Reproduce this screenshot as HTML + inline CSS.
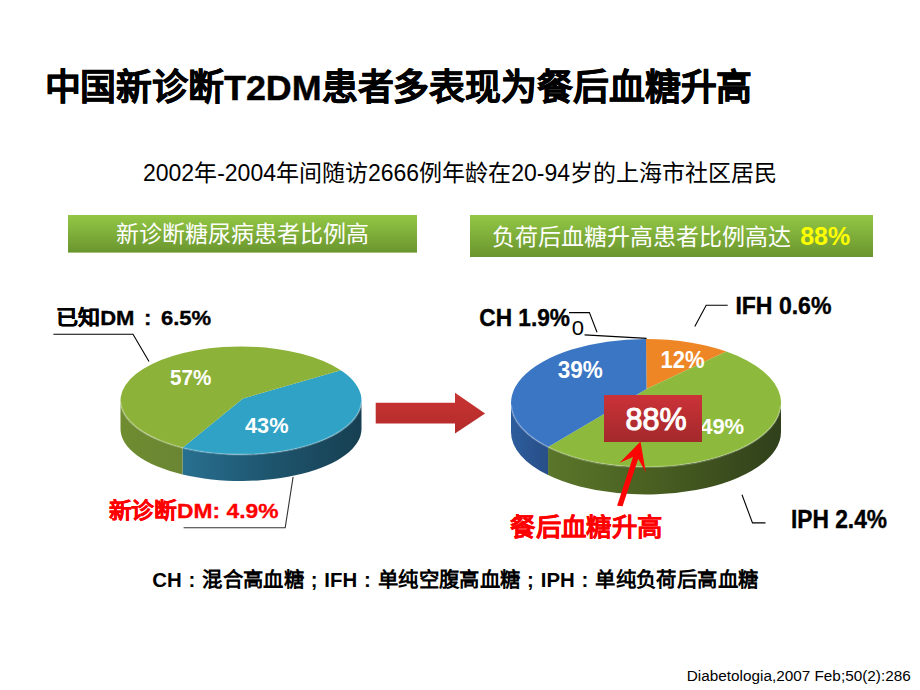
<!DOCTYPE html>
<html lang="zh-CN"><head><meta charset="utf-8"><title>slide</title>
<style>
html,body{margin:0;padding:0;background:#fff;}
body{width:920px;height:690px;position:relative;overflow:hidden;font-family:"Liberation Sans",sans-serif;}
.t{position:absolute;white-space:nowrap;line-height:1.15;transform-origin:0 0;}
.c{font-style:normal;display:inline-block;width:1em;text-align:center;}
.bk{-webkit-text-stroke:0.35px;}
#foot,#foot .c,#p57,#p43,#p39,#p12,#p49{-webkit-text-stroke:0;}
#red .c{-webkit-text-stroke:0.1px;}
#title .c{-webkit-text-stroke:0.6px;}
#title{-webkit-text-stroke:0.4px;}
#p88{-webkit-text-stroke:1px;}
.box{position:absolute;left:604px;top:395px;width:98px;height:46.5px;background:linear-gradient(#cb3238,#a3292b);}
</style></head><body>
<svg width="920" height="690" viewBox="0 0 920 690" style="position:absolute;left:0;top:0">
<defs>
<linearGradient id="lb" x1="0" x2="1" y1="0" y2="0"><stop offset="0" stop-color="#287090"/><stop offset="0.45" stop-color="#1e5770"/><stop offset="1" stop-color="#173f52"/></linearGradient>
<linearGradient id="lg" x1="0" x2="1" y1="0" y2="0"><stop offset="0" stop-color="#6f8c30"/><stop offset="1" stop-color="#6a8634"/></linearGradient>
<linearGradient id="rg" x1="0" x2="1" y1="0" y2="0"><stop offset="0" stop-color="#5a762a"/><stop offset="0.45" stop-color="#495f21"/><stop offset="1" stop-color="#30401b"/></linearGradient>
<linearGradient id="rb" x1="0" x2="1" y1="0" y2="0"><stop offset="0" stop-color="#2d5c9c"/><stop offset="1" stop-color="#274f88"/></linearGradient>
<linearGradient id="ro" x1="0" x2="1" y1="0" y2="0"><stop offset="0" stop-color="#c06a1e"/><stop offset="1" stop-color="#c06a1e"/></linearGradient>
<linearGradient id="bar" x1="0" x2="0" y1="0" y2="1"><stop offset="0" stop-color="#93c745"/><stop offset="1" stop-color="#6a952e"/></linearGradient>
<linearGradient id="arr" x1="0" x2="0" y1="0" y2="1"><stop offset="0" stop-color="#c93432"/><stop offset="1" stop-color="#b22b2a"/></linearGradient>
</defs>
<rect x="68" y="215" width="349" height="37.6" fill="url(#bar)"/>
<rect x="470" y="215" width="403" height="42" fill="url(#bar)"/>
<path d="M361.50 400.50 A120.50 54.00 0 0 1 182.58 447.73 L182.58 474.48 A120.50 52.00 0 0 0 361.50 429.00 Z" fill="url(#lb)"/>
<path d="M182.58 447.73 A120.50 54.00 0 0 1 120.50 400.50 L120.50 429.00 A120.50 52.00 0 0 0 182.58 474.48 Z" fill="url(#lg)"/>
<path d="M243.00 398.50 L340.90 370.30 A120.50 54.00 0 0 1 182.58 447.73 Z" fill="#2fa2c6"/>
<path d="M243.00 398.50 L182.58 447.73 A120.50 54.00 0 1 1 340.90 370.30 Z" fill="#8db23a"/>
<path d="M361.43 402.38 A120.50 54.00 0 0 1 120.57 402.38" fill="none" stroke="#fff" stroke-opacity="0.22" stroke-width="2"/>
<path d="M781.00 403.00 A135.00 64.00 0 0 1 548.07 447.05 L548.07 475.02 A135.00 62.50 0 0 0 781.00 432.00 Z" fill="url(#rg)"/>
<path d="M548.07 447.05 A135.00 64.00 0 0 1 511.00 403.00 L511.00 432.00 A135.00 62.50 0 0 0 548.07 475.02 Z" fill="url(#rb)"/>
<path d="M646.50 389.00 L646.00 339.00 A135.00 64.00 0 0 1 726.30 351.55 Z" fill="#ee8626"/>
<path d="M646.50 389.00 L726.30 351.55 A135.00 64.00 0 1 1 548.07 447.05 Z" fill="#8dba3c"/>
<path d="M646.50 389.00 L548.07 447.05 A135.00 64.00 0 0 1 646.00 339.00 Z" fill="#3b76c4"/>
<path d="M780.92 405.23 A135.00 64.00 0 0 1 511.08 405.23" fill="none" stroke="#fff" stroke-opacity="0.22" stroke-width="2"/>
<path d="M375.7 402.7 H455 V392.8 L485.1 413.4 L455 433.6 V423.6 H375.7 Z" fill="url(#arr)"/>
<g stroke="#000" stroke-width="1.1" fill="none">
<polyline points="53.4,334.2 133,334.2 149,361.5"/>
<polyline points="183.6,527.7 285.2,527.7 293.1,476.8" stroke="#333"/>
<polyline points="569,312.6 589.4,312.6 597,332.2"/>
<polyline points="584.6,334.9 646.6,338.4"/>
<polyline points="727.7,305.3 706.2,305.3 694.8,326.6"/>
<polyline points="742,494.8 752.5,522.9 765.5,522.9"/>
</g>
<path d="M640.5 441.4 L619.7 462.8 L633 457 L617.1 505.7 L622.6 506.2 L638.2 458.7 L645.8 472.6 Z" fill="#fb0505"/>
</svg>
<div class="t bk" id="title" style="left:44.5px;top:68px;font-size:35.9px;font-weight:bold;color:#000;transform:translate(0.00px,0.00px) scale(1.000,1.000)"><i class="c">中</i><i class="c">国</i><i class="c">新</i><i class="c">诊</i><i class="c">断</i>T2DM<i class="c">患</i><i class="c">者</i><i class="c">多</i><i class="c">表</i><i class="c">现</i><i class="c">为</i><i class="c">餐</i><i class="c">后</i><i class="c">血</i><i class="c">糖</i><i class="c">升</i><i class="c">高</i></div>
<div class="t" id="sub" style="left:143px;top:160px;font-size:23px;font-weight:normal;color:#000;transform:translate(0.00px,-0.10px) scale(1.000,1.000)">2002<i class="c">年</i>-2004<i class="c">年</i><i class="c">间</i><i class="c">随</i><i class="c">访</i>2666<i class="c">例</i><i class="c">年</i><i class="c">龄</i><i class="c">在</i>20-94<i class="c">岁</i><i class="c">的</i><i class="c">上</i><i class="c">海</i><i class="c">市</i><i class="c">社</i><i class="c">区</i><i class="c">居</i><i class="c">民</i></div>
<div class="t" id="barL" style="left:116px;top:220.5px;font-size:23px;font-weight:normal;color:#fff;transform:translate(0.00px,0.25px) scale(1.000,1.000)"><i class="c">新</i><i class="c">诊</i><i class="c">断</i><i class="c">糖</i><i class="c">尿</i><i class="c">病</i><i class="c">患</i><i class="c">者</i><i class="c">比</i><i class="c">例</i><i class="c">高</i></div>
<div class="t" id="barR" style="left:491.5px;top:222.7px;font-size:23px;font-weight:normal;color:#fff;transform:translate(0.25px,-1.30px) scale(1.000,1.000)"><i class="c">负</i><i class="c">荷</i><i class="c">后</i><i class="c">血</i><i class="c">糖</i><i class="c">升</i><i class="c">高</i><i class="c">患</i><i class="c">者</i><i class="c">比</i><i class="c">例</i><i class="c">高</i><i class="c">达</i> <b style="color:#ffff00;font-size:25px;margin-left:3px">88%</b></div>
<div class="t bk" id="known" style="left:55.5px;top:305px;font-size:22px;font-weight:bold;color:#000;transform:translate(-0.00px,1.16px) scale(1.003,0.920)"><i class="c">已</i><i class="c">知</i>DM<i class="c" style="width:1.2em">:</i>6.5%</div>
<div class="t bk" id="newdm" style="left:107.7px;top:498px;font-size:22.9px;font-weight:bold;color:#f00;transform:translate(0.70px,0.20px) scale(0.996,0.920)"><i class="c">新</i><i class="c">诊</i><i class="c">断</i>DM: 4.9%</div>
<div class="t bk" id="p57" style="left:171px;top:366px;font-size:20.5px;font-weight:bold;color:#fff;transform:translate(-1.01px,-1.77px) scale(1.008,1.114)">57%</div>
<div class="t bk" id="p43" style="left:245px;top:414px;font-size:21px;font-weight:bold;color:#fff;transform:translate(0.00px,-1.46px) scale(1.034,1.093)">43%</div>
<div class="t bk" id="ch" style="left:480px;top:306px;font-size:22.2px;font-weight:bold;color:#000;transform:translate(-0.72px,-1.47px) scale(1.021,1.073)">CH 1.9%</div>
<div class="t" id="zero" style="left:572px;top:317px;font-size:20px;font-weight:normal;color:#000;transform:translate(-0.35px,-0.34px) scale(1.100,1.036)">0</div>
<div class="t bk" id="ifh" style="left:736px;top:293px;font-size:22.5px;font-weight:bold;color:#000;transform:translate(-0.62px,-0.73px) scale(1.024,1.067)">IFH 0.6%</div>
<div class="t bk" id="iph" style="left:792px;top:507px;font-size:22.5px;font-weight:bold;color:#000;transform:translate(-1.11px,-1.50px) scale(1.012,1.120)">IPH 2.4%</div>
<div class="t bk" id="p39" style="left:558px;top:358px;font-size:22px;font-weight:bold;color:#fff;transform:translate(-0.32px,-1.00px) scale(1.023,1.060)">39%</div>
<div class="t bk" id="p12" style="left:661px;top:348px;font-size:22px;font-weight:bold;color:#fff;transform:translate(-0.50px,-1.30px) scale(1.000,1.060)">12%</div>
<div class="t bk" id="p49" style="left:700px;top:414px;font-size:22px;font-weight:bold;color:#fff;transform:translate(0.15px,-0.10px) scale(1.000,1.000)">49%</div>
<div class="t bk" id="red" style="left:510px;top:512px;font-size:25.5px;font-weight:bold;color:#f00;transform:translate(0.20px,1.54px) scale(0.997,0.964)"><i class="c">餐</i><i class="c">后</i><i class="c">血</i><i class="c">糖</i><i class="c">升</i><i class="c">高</i></div>
<div class="t bk" id="foot" style="left:152px;top:569px;font-size:20.4px;font-weight:bold;color:#000;transform:translate(0.15px,0.25px) scale(1.000,1.000)">CH<i class="c">:</i><i class="c">混</i><i class="c">合</i><i class="c">高</i><i class="c">血</i><i class="c">糖</i><i class="c">;</i>IFH<i class="c">:</i><i class="c">单</i><i class="c">纯</i><i class="c">空</i><i class="c">腹</i><i class="c">高</i><i class="c">血</i><i class="c">糖</i><i class="c">;</i>IPH<i class="c">:</i><i class="c">单</i><i class="c">纯</i><i class="c">负</i><i class="c">荷</i><i class="c">后</i><i class="c">高</i><i class="c">血</i><i class="c">糖</i></div>
<div class="t" id="cit" style="left:686.8px;top:666px;font-size:15.3px;font-weight:normal;color:#000;transform:translate(-0.20px,1.24px) scale(1.001,0.986)">Diabetologia,2007 Feb;50(2):286</div>
<div class="box"></div>
<div class="t" id="p88" style="left:626px;top:401px;font-size:30.5px;font-weight:normal;color:#fff;transform:translate(-0.50px,0.60px) scale(1.000,1.000)">88%</div>
</body></html>
